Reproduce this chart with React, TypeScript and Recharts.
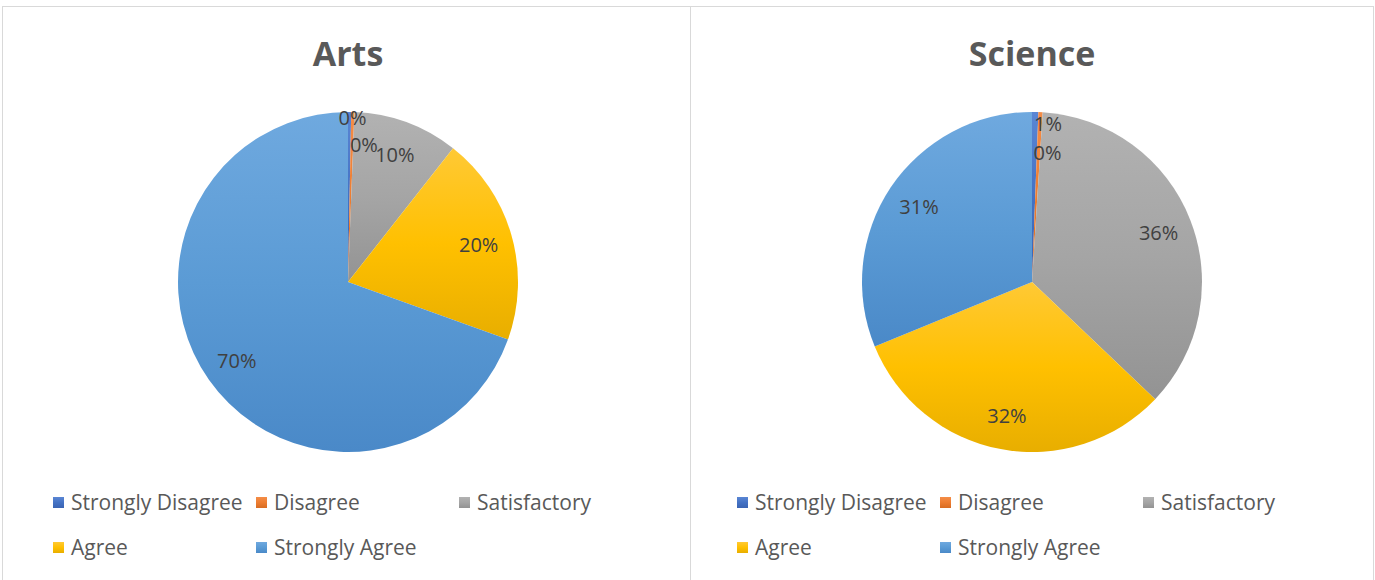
import { PieChart, Pie, Cell, Legend } from 'recharts';

const categories = ['Strongly Disagree', 'Disagree', 'Satisfactory', 'Agree', 'Strongly Agree'];
const artsValues = [0.3, 0.3, 10, 19.9, 69.5];
const scienceValues = [0.6, 0.4, 36.1, 31.7, 31.2];
const colors = ['#4472C4', '#ED7D31', '#A5A5A5', '#FFC000', '#5B9BD5'];
const lightColors = ['#5a86d4', '#f48d48', '#b2b2b2', '#ffc935', '#6fa9df'];
const darkColors = ['#3a64b3', '#d86c22', '#939393', '#e8ae00', '#4a89c8'];

const FONT = '"Open Sans", "Noto Sans", sans-serif';
const RADIAN = Math.PI / 180;

// placement of the labels of the two tiny slices (radius factor, x nudge)
const artsSmall = [{ r: 0.97, dx: 3 }, { r: 0.81, dx: 12 }];
const sciSmall = [{ r: 0.93, dx: 13 }, { r: 0.76, dx: 9 }];

function makeLabel(prefix: string, small: { r: number; dx: number }[]) {
  return (props: any) => {
    const { cx, cy, midAngle, outerRadius, percent, index } = props;
    let r = outerRadius * 0.8;
    let dx = 0;
    if (index < 2) {
      r = outerRadius * small[index].r;
      dx = small[index].dx;
    }
    const x = cx + r * Math.cos(-midAngle * RADIAN) + dx;
    const y = cy + r * Math.sin(-midAngle * RADIAN);
    return (
      <text
        key={`${prefix}-l-${index}`}
        x={x}
        y={y}
        fill="#404040"
        fontSize={20}
        fontFamily={FONT}
        textAnchor="middle"
        dominantBaseline="central"
      >
        {`${Math.round(percent * 100)}%`}
      </text>
    );
  };
}

function LegendBox({ prefix }: { prefix: string }) {
  return (
    <div style={{ display: 'grid', gridTemplateColumns: '203px 203px 203px', rowGap: 19, fontFamily: FONT }}>
      {categories.map((c, i) => (
        <div key={c} style={{ display: 'flex', alignItems: 'center', height: 26 }}>
          <svg width={11} height={11} style={{ marginRight: 7 }}>
            <rect width={11} height={11} fill={`url(#${prefix}-g${i})`} />
          </svg>
          <span style={{ color: '#595959', fontSize: 21 }}>{c}</span>
        </div>
      ))}
    </div>
  );
}

function Panel({ title, values, left, width, cx, prefix, small, legendLeft }: any) {
  const data = categories.map((name, i) => ({ name, value: values[i] }));
  return (
    <div
      style={{
        position: 'absolute',
        left,
        top: 6,
        width,
        height: 590,
        borderLeft: '1px solid #d9d9d9',
        borderTop: '1px solid #d9d9d9',
        borderRight: '1px solid #d9d9d9',
        boxSizing: 'border-box',
      }}
    >
      <div
        style={{
          position: 'absolute',
          left: cx - 150,
          width: 300,
          top: 26,
          textAlign: 'center',
          fontFamily: FONT,
          fontWeight: 'bold',
          fontSize: 34,
          color: '#595959',
          lineHeight: '40px',
        }}
      >
        {title}
      </div>
      <PieChart width={width - 2} height={570} style={{ position: 'absolute', left: 0, top: 0 }}>
        <defs>
          {colors.map((c, i) => (
            <linearGradient key={c} id={`${prefix}-g${i}`} x1="0" y1="0" x2="0" y2="1">
              <stop offset="0%" stopColor={lightColors[i]} />
              <stop offset="50%" stopColor={c} />
              <stop offset="100%" stopColor={darkColors[i]} />
            </linearGradient>
          ))}
        </defs>
        <Pie
          data={data}
          dataKey="value"
          cx={cx - 5}
          cy={270}
          outerRadius={170}
          startAngle={90}
          endAngle={-270}
          stroke="none"
          isAnimationActive={false}
          labelLine={false}
          label={makeLabel(prefix, small)}
        >
          {data.map((d, i) => (
            <Cell key={d.name} fill={`url(#${prefix}-g${i})`} />
          ))}
        </Pie>
        <Legend
          content={() => <LegendBox prefix={prefix} />}
          wrapperStyle={{ position: 'absolute', left: legendLeft, top: 482, width: 620 }}
        />
      </PieChart>
    </div>
  );
}

export default function App() {
  return (
    <div style={{ position: 'absolute', left: 0, top: 0, width: 1375, height: 580, background: '#fff', overflow: 'hidden' }}>
      <Panel title="Arts" values={artsValues} left={2} width={689} cx={345} prefix="arts" small={artsSmall} legendLeft={50} />
      <Panel title="Science" values={scienceValues} left={690} width={684} cx={341} prefix="sci" small={sciSmall} legendLeft={46} />
    </div>
  );
}
